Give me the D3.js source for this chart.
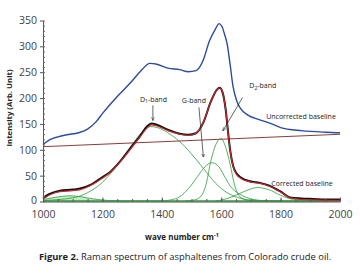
<!DOCTYPE html>
<html>
<head>
<meta charset="utf-8">
<script src="https://cdn.jsdelivr.net/npm/d3@7/dist/d3.min.js"></script>
<style>
  body { margin: 0; background: #fff; }
  svg { display: block; }
  .tick text { font-family: "Open Sans", "DejaVu Sans", sans-serif; fill: #444; }
</style>
</head>
<body>
<div id="chart"></div>
<script>
// Raman spectrum readings, wave number -> intensity
const uncorrected = [
    [1000, 110], [1025, 120], [1050, 125], [1080, 129], [1120, 133], [1150, 140], [1180, 155],
    [1200, 170], [1250, 203], [1300, 233], [1330, 253], [1360, 267], [1380, 266], [1420, 258],
    [1460, 255], [1490, 251], [1515, 253], [1540, 274], [1560, 310], [1580, 333], [1593, 344],
    [1603, 338], [1612, 322], [1620, 305], [1630, 265], [1640, 222], [1652, 195], [1665, 180],
    [1690, 167], [1730, 158], [1770, 150], [1800, 143], [1870, 137], [1950, 134], [2000, 133]
];

const fitted = [
    [1000, 5], [1020, 12], [1057, 19], [1100, 21], [1125, 23], [1160, 31], [1192, 42], [1226, 56],
    [1259, 76], [1293, 100], [1327, 125], [1350, 142], [1365, 148], [1385, 146], [1420, 137],
    [1460, 130], [1490, 128], [1515, 132], [1540, 153], [1565, 193], [1585, 216], [1595, 220],
    [1605, 210], [1615, 178], [1622, 140], [1630, 100], [1640, 68], [1652, 52], [1665, 45],
    [1697, 38], [1730, 35], [1760, 30], [1798, 19], [1832, 7], [1870, 4], [1910, 3], [2000, 2]
];

const measured = [
    [1000, 7], [1020, 14], [1057, 21], [1100, 23], [1125, 25], [1160, 32], [1192, 44], [1226, 57],
    [1259, 77], [1293, 102], [1327, 127], [1350, 145], [1365, 151], [1385, 148], [1420, 139],
    [1460, 131], [1490, 129], [1515, 132], [1540, 153], [1565, 193], [1585, 216], [1595, 220],
    [1605, 210], [1615, 178], [1622, 140], [1630, 100], [1640, 69], [1652, 54], [1665, 47],
    [1697, 39], [1730, 36], [1760, 31], [1798, 20], [1832, 8], [1870, 6], [1910, 5], [1950, 4], [2000, 4]
];

const band1 = [[1000, 4], [1040, 8], [1090, 11], [1130, 9], [1170, 5], [1220, 2], [1300, 1], [1400, 1]];
const bandD1 = [
    [1000, 2], [1100, 7], [1150, 17], [1200, 37], [1250, 70], [1300, 110], [1340, 138], [1362, 145],
    [1385, 143], [1420, 133], [1460, 116], [1500, 92], [1540, 64], [1580, 36], [1620, 17], [1660, 7],
    [1700, 3], [1800, 1], [2000, 1]
];
const bandG = [
    [1400, 1], [1430, 3], [1460, 9], [1490, 25], [1520, 48], [1545, 67], [1567, 75], [1588, 70],
    [1610, 50], [1630, 30], [1660, 15], [1690, 7], [1730, 2], [1800, 1]
];
const bandD2 = [
    [1480, 1], [1510, 3], [1530, 9], [1550, 35], [1565, 78], [1582, 110], [1599, 122], [1615, 105],
    [1630, 72], [1645, 32], [1663, 9], [1690, 2], [1720, 1]
];
const bandD3 = [
    [1580, 1], [1610, 4], [1640, 10], [1680, 20], [1722, 27], [1760, 23], [1800, 12], [1840, 4],
    [1880, 1], [1920, 1]
];
const correctedBaseline = [[1000, 1], [2000, 1]];
const uncorrectedBaseline = [[1000, 106], [2000, 130]];

const xTicks = [1000, 1200, 1400, 1600, 1800, 2000];
const yTicks = [0, 50, 100, 150, 200, 250, 300, 350];

const labels = [
    {text: "D", sub: "1", rest: "-band", wn: 1372, val: 193, tip: [1370, 157], from: [1370, 186]},
    {text: "G-band", wn: 1508, val: 190, tip: [1540, 86], from: [1525, 182]},
    {text: "D", sub: "2", rest: "-band", wn: 1740, val: 219, tip: [1606, 137], from: [1672, 201]}
];

const width = 360, height = 274;
const svg = d3.select('#chart').append('svg')
    .attr('width', width)
    .attr('height', height);

const xScale = d3.scaleLinear().domain([1000, 2000]).range([43, 340]);
const yScale = d3.scaleLinear().domain([0, 350]).range([201.5, 20.5]);

const font = '"Open Sans", "DejaVu Sans", sans-serif';

const line = d3.line()
    .x(d => xScale(d[0]))
    .y(d => yScale(d[1]))
    .curve(d3.curveMonotoneX);

// light fill under the small first band
svg.append('path')
    .datum(band1)
    .attr('d', d3.area()
        .x(d => xScale(d[0]))
        .y0(yScale(1))
        .y1(d => yScale(d[1]))
        .curve(d3.curveMonotoneX))
    .attr('fill', '#c4ebc4');

// Uncorrected baseline
svg.append('path')
    .datum(uncorrectedBaseline)
    .attr('d', line)
    .attr('fill', 'none')
    .attr('stroke', '#7e2624')
    .attr('stroke-width', 0.9);

// Uncorrected spectrum
svg.append('path')
    .datum(uncorrected)
    .attr('d', line)
    .attr('fill', 'none')
    .attr('stroke', '#2b4b9b')
    .attr('stroke-width', 1.4);

// Fitted bands
[band1, bandD1, bandG, bandD2, bandD3].forEach(band => {
    svg.append('path')
        .datum(band)
        .attr('d', line)
        .attr('fill', 'none')
        .attr('stroke', '#2f9a3e')
        .attr('stroke-width', 0.8);
});

svg.append('path')
    .datum(correctedBaseline)
    .attr('d', line)
    .attr('fill', 'none')
    .attr('stroke', '#2f9a3e')
    .attr('stroke-width', 1.6);

// measured corrected spectrum, then the fit on top
svg.append('path')
    .datum(measured)
    .attr('d', line)
    .attr('fill', 'none')
    .attr('stroke', '#111')
    .attr('stroke-width', 2);

svg.append('path')
    .datum(fitted)
    .attr('d', line)
    .attr('fill', 'none')
    .attr('stroke', '#c42a30')
    .attr('stroke-width', 1.2);

// Axes
const xAxis = d3.axisBottom(xScale)
    .tickValues(xTicks)
    .tickFormat(d3.format('d'))
    .tickSizeInner(-4)
    .tickSizeOuter(0)
    .tickPadding(9);

const gx = svg.append('g')
    .attr('transform', 'translate(0,' + yScale(0) + ')')
    .call(xAxis);
gx.selectAll('text').style('font-size', '10.5px');
gx.selectAll('line, path').attr('stroke', '#555');

svg.append('g')
    .attr('transform', 'translate(0,' + yScale(0) + ')')
    .call(d3.axisBottom(xScale).ticks(20).tickSize(-2.5).tickFormat(''))
    .call(g => g.select('.domain').remove())
    .selectAll('line').attr('stroke', '#555');

const yAxis = d3.axisLeft(yScale)
    .tickValues(yTicks)
    .tickSizeInner(3)
    .tickSizeOuter(0)
    .tickPadding(3);

const gy = svg.append('g')
    .attr('transform', 'translate(' + xScale(1000) + ',0)')
    .call(yAxis);
gy.selectAll('text').style('font-size', '10.5px');
gy.selectAll('.tick').filter(d => d === 0).select('text').attr('dy', '0.22em');
gy.selectAll('line, path').attr('stroke', '#555');

svg.append('g')
    .attr('transform', 'translate(' + xScale(1000) + ',0)')
    .call(d3.axisLeft(yScale).ticks(35).tickSize(-2).tickFormat(''))
    .call(g => g.select('.domain').remove())
    .selectAll('line').attr('stroke', '#666');

// Axis titles
svg.append('text')
    .attr('transform', 'translate(12,108) rotate(-90)')
    .attr('text-anchor', 'middle')
    .style('font-family', font)
    .style('font-weight', 'bold')
    .style('font-size', '7.8px')
    .attr('fill', '#222')
    .text('Intensity (Arb. Unit)');

const xt = svg.append('text')
    .attr('x', 182)
    .attr('y', 240)
    .attr('text-anchor', 'middle')
    .style('font-family', font)
    .style('font-weight', 'bold')
    .style('font-size', '8px')
    .attr('fill', '#222');
xt.append('tspan').text('wave number cm');
xt.append('tspan').attr('dy', -3).style('font-size', '5.5px').text('-1');

// Band labels with arrows
svg.append('defs').append('marker')
    .attr('id', 'arrow')
    .attr('viewBox', '0 0 10 10')
    .attr('refX', 9)
    .attr('refY', 5)
    .attr('markerWidth', 5)
    .attr('markerHeight', 5)
    .attr('orient', 'auto')
    .append('path')
    .attr('d', 'M0,1 L10,5 L0,9')
    .attr('fill', 'none')
    .attr('stroke', '#222')
    .attr('stroke-width', 1.5);

labels.forEach(l => {
    let t = svg.append('text')
        .attr('x', xScale(l.wn))
        .attr('y', yScale(l.val))
        .attr('text-anchor', 'middle')
        .style('font-family', font)
        .style('font-size', '7px')
        .attr('fill', '#222');
    t.append('tspan').text(l.text);
    if (l.sub) {
        t.append('tspan').attr('dy', 1.5).style('font-size', '5px').text(l.sub);
        t.append('tspan').attr('dy', -1.5).text(l.rest);
    }
    svg.append('line')
        .attr('x1', xScale(l.from[0]))
        .attr('y1', yScale(l.from[1]))
        .attr('x2', xScale(l.tip[0]))
        .attr('y2', yScale(l.tip[1]))
        .attr('stroke', '#222')
        .attr('stroke-width', 0.7)
        .attr('marker-end', 'url(#arrow)');
});

svg.append('text')
    .attr('x', 301)
    .attr('y', 119)
    .attr('text-anchor', 'middle')
    .style('font-family', font)
    .style('font-size', '7px')
    .attr('fill', '#222')
    .text('Uncorrected baseline');

svg.append('text')
    .attr('x', 302)
    .attr('y', 186)
    .attr('text-anchor', 'middle')
    .style('font-family', font)
    .style('font-size', '7px')
    .attr('fill', '#222')
    .text('Corrected baseline');

// Caption
const cap = svg.append('text')
    .attr('x', 185)
    .attr('y', 260)
    .attr('text-anchor', 'middle')
    .style('font-family', font)
    .style('font-size', '9.4px')
    .attr('fill', '#222');
cap.append('tspan').style('font-weight', 'bold').text('Figure 2.');
cap.append('tspan').text(' Raman spectrum of asphaltenes from Colorado crude oil.');
</script>
</body>
</html>
